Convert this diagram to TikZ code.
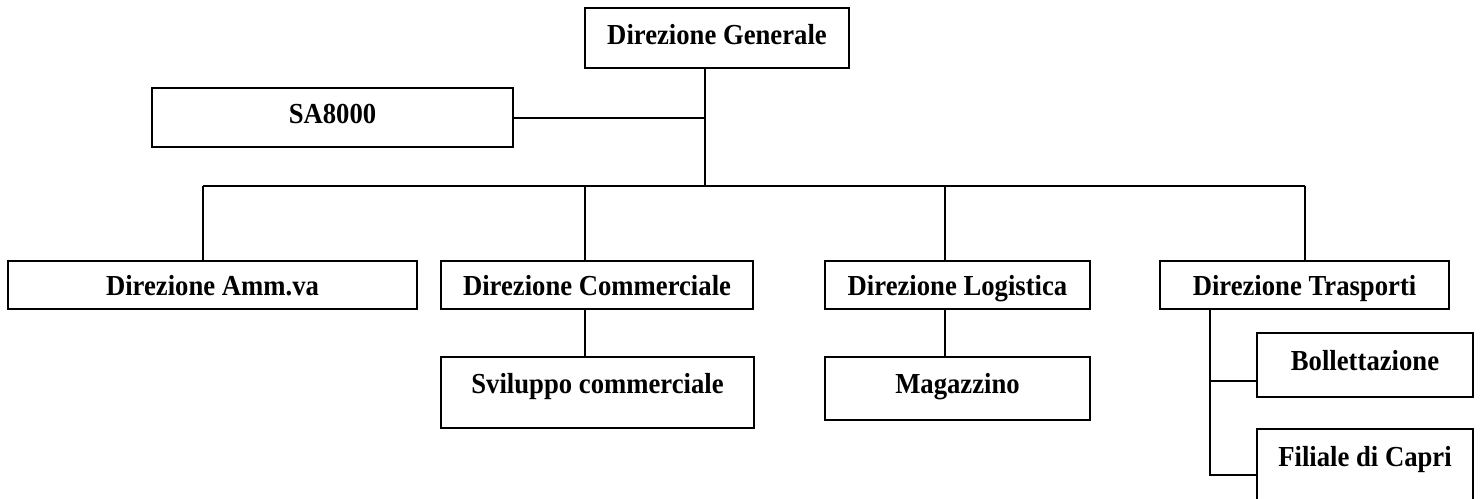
\documentclass[tikz,border=0pt]{standalone}
\usepackage{fontspec}
\setmainfont{Liberation Serif}[FakeStretch=0.92]
\usepackage{tikz}

\begin{document}
\begin{tikzpicture}[x=1pt,y=-1pt,
    unit/.style={draw,line width=2.2pt,inner sep=0pt,text height=19pt,
      font=\bfseries\fontsize{29pt}{30pt}\selectfont},
    link/.style={line width=2pt}]
  \useasboundingbox (0,0) rectangle (1480,498);
  % boxes
  \node[unit,minimum width=264pt,minimum height=60pt,text depth=7pt] (gen) at (717,38) {Direzione Generale};
  \node[unit,minimum width=361pt,minimum height=59pt,text depth=7pt] (sa) at (332.5,117.5) {SA8000};
  \node[unit,minimum width=409pt,minimum height=48pt,text height=21pt,text depth=0pt] (amm) at (212.5,285) {Direzione Amm.va};
  \node[unit,minimum width=312pt,minimum height=48pt,text height=21pt,text depth=0pt] (comm) at (597,285) {Direzione Commerciale};
  \node[unit,minimum width=265pt,minimum height=48pt,text height=21pt,text depth=0pt] (log) at (957.5,285) {Direzione Logistica};
  \node[unit,minimum width=289pt,minimum height=48pt,text height=21pt,text depth=0pt] (trasp) at (1304.5,285) {Direzione Trasporti};
  \node[unit,minimum width=313pt,minimum height=71pt,text depth=18pt] (svil) at (597.5,392.5) {Sviluppo commerciale};
  \node[unit,minimum width=265pt,minimum height=63pt,text depth=10pt] (mag) at (957.5,388.5) {Magazzino};
  \node[unit,minimum width=216pt,minimum height=64pt,text depth=9pt] (bol) at (1365,365) {Bollettazione};
  \node[unit,minimum width=216pt,minimum height=80pt,text depth=25pt] (fil) at (1365,469) {Filiale di Capri};
  % joints
  \coordinate (top) at (705,186);
  \coordinate (k1) at (203,186);
  \coordinate (k2) at (585,186);
  \coordinate (k3) at (945,186);
  \coordinate (k4) at (1305,186);
  \coordinate (b1) at (1210,381);
  \coordinate (f1) at (1210,475);
  % lines
  \draw[link] (top |- gen.south)--(top);
  \draw[link] (sa.east)--(sa.east -| top);
  \draw[link] (k1)--(k4);
  \draw[link] (k1)--(k1 |- amm.north) (k2)--(k2 |- comm.north)
    (k3)--(k3 |- log.north) (k4)--(k4 |- trasp.north);
  \draw[link] (k2 |- comm.south)--(k2 |- svil.north);
  \draw[link] (k3 |- log.south)--(k3 |- mag.north);
  \draw[link] (b1 |- trasp.south)--(f1)--(f1 -| fil.west);
  \draw[link] (b1)--(b1 -| bol.west);
\end{tikzpicture}
\end{document}
